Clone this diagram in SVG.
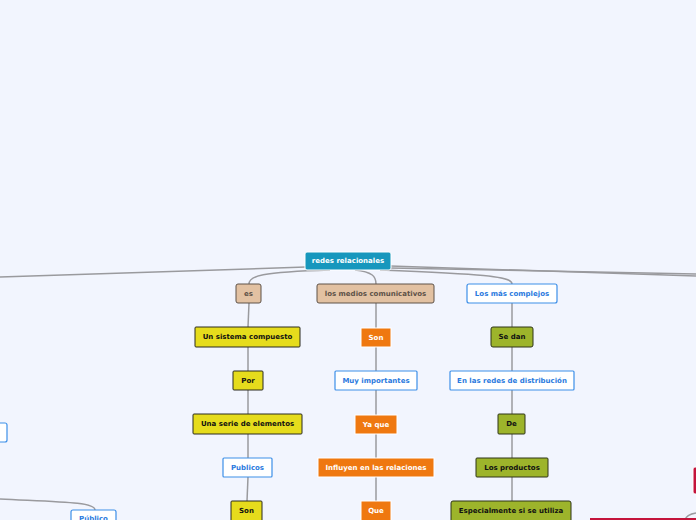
<svg xmlns="http://www.w3.org/2000/svg" width="696" height="520" viewBox="0 0 696 520">
<style>
text{font-family:"DejaVu Sans",Verdana,sans-serif;font-weight:bold;font-size:7px;text-anchor:middle;dominant-baseline:central}
.c{fill:none;stroke:#9a9a9e;stroke-width:1.5}
.tan rect{fill:#e2c1a2;stroke:#5e5248;stroke-width:1}
.tan text{fill:#5e5248}
.yel rect{fill:#e6dc1c;stroke:#2a2a20;stroke-width:1}
.yel text{fill:#111}
.grn rect{fill:#9db42b;stroke:#2e3418;stroke-width:1}
.grn text{fill:#111}
.org rect{fill:#ef7810;stroke:#ffffff;stroke-width:1}
.org text{fill:#fff}
.blu rect{fill:#fff;stroke:#3d8fe8;stroke-width:1.2}
.blu text{fill:#2a7ade}
</style>
<rect width="696" height="520" fill="#f2f5fe"/>
<g id="connectors">
<path class="c" d="M306,267 L0,277"/>
<path class="c" d="M390,266 L696,276"/>
<path class="c" d="M390,268 L696,274"/>
<path class="c" d="M330,270 C260,272 249,276 249,284"/>
<path class="c" d="M355,270 C372,272 376,276 376,284"/>
<path class="c" d="M380,270 C480,274 512,276 512,284"/>
<path class="c" d="M249,303 L248,327"/>
<path class="c" d="M376,303 L376,328"/>
<path class="c" d="M512,303 L512,327"/>
<path class="c" d="M248,347 L248,371"/>
<path class="c" d="M376,347 L376,371"/>
<path class="c" d="M512,347 L512,371"/>
<path class="c" d="M248,390 L248,414"/>
<path class="c" d="M376,390 L376,415"/>
<path class="c" d="M512,390 L512,414"/>
<path class="c" d="M248,434 L248,458"/>
<path class="c" d="M376,434 L376,458"/>
<path class="c" d="M512,434 L512,458"/>
<path class="c" d="M248,477 L247,501"/>
<path class="c" d="M376,477 L376,501"/>
<path class="c" d="M512,477 L512,501"/>
<path class="c" d="M0,499 C60,502 95,502 95,510" stroke-width="1"/>
<path class="c" d="M696,513 C690,514 686,516 685,520" stroke-width="1"/>
</g>
<g id="n-root"><rect x="305" y="252" width="86" height="18" rx="2" fill="#1797bd" stroke="#fff" stroke-width="1"/><text x="348" y="261" fill="#fff">redes relacionales</text></g>
<g id="n-es" class="tan"><rect x="236" y="284" width="25" height="19" rx="2"/><text x="248.5" y="293.5">es</text></g>
<g id="n-medios" class="tan"><rect x="317" y="284" width="117" height="19" rx="2"/><text x="375.5" y="293.5">los medios comunicativos</text></g>
<g id="n-complejos" class="blu"><rect x="467" y="284" width="90" height="19" rx="2"/><text x="512" y="293.5">Los más complejos</text></g>
<g id="n-sistema" class="yel"><rect x="195" y="327" width="105" height="20" rx="1"/><text x="247.5" y="337">Un sistema compuesto</text></g>
<g id="n-son1" class="org"><rect x="361" y="328" width="30" height="19"/><text x="376" y="337.5">Son</text></g>
<g id="n-sedan" class="grn"><rect x="491" y="327" width="42" height="20" rx="2"/><text x="512" y="337">Se dan</text></g>
<g id="n-por" class="yel"><rect x="233" y="371" width="30" height="19" rx="1"/><text x="248" y="380.5">Por</text></g>
<g id="n-muy" class="blu"><rect x="335" y="371" width="82" height="19" rx="1"/><text x="376" y="380.5">Muy importantes</text></g>
<g id="n-redes" class="blu"><rect x="450" y="371" width="124" height="19" rx="1"/><text x="512" y="380.5">En las redes de distribución</text></g>
<g id="n-serie" class="yel"><rect x="193" y="414" width="109" height="20" rx="1"/><text x="247.5" y="424">Una serie de elementos</text></g>
<g id="n-yaque" class="org"><rect x="355" y="415" width="42" height="19"/><text x="376" y="424.5">Ya que</text></g>
<g id="n-de" class="grn"><rect x="498" y="414" width="27" height="20" rx="1"/><text x="511.5" y="424">De</text></g>
<g id="n-publicos" class="blu"><rect x="223" y="458" width="49" height="19" rx="1"/><text x="247.5" y="467.5">Publicos</text></g>
<g id="n-influyen" class="org"><rect x="318" y="458" width="116" height="19"/><text x="376" y="467.5">Influyen en las relaciones</text></g>
<g id="n-productos" class="grn"><rect x="476" y="458" width="72" height="19" rx="1"/><text x="512" y="467.5">Los productos</text></g>
<g id="n-son2" class="yel"><rect x="231" y="501" width="31" height="24" rx="1"/><text x="246.5" y="511">Son</text></g>
<g id="n-que" class="org"><rect x="361" y="501" width="30" height="24"/><text x="376" y="511">Que</text></g>
<g id="n-especial" class="grn"><rect x="451" y="501" width="120" height="24" rx="2"/><text x="511" y="511">Especialmente si se utiliza</text></g>
<g id="n-left" class="blu"><rect x="-20" y="423" width="27" height="19" rx="2"/></g>
<g id="n-publico" class="blu"><rect x="71" y="510" width="45" height="20" rx="2"/><text x="93.5" y="518.5">Público</text></g>
<g id="n-red1"><rect x="693" y="467" width="10" height="27" rx="2" fill="#c4143c" stroke="#fff"/></g>
<g id="n-red2"><rect x="590" y="518" width="120" height="10" fill="#c4143c"/></g>
</svg>
